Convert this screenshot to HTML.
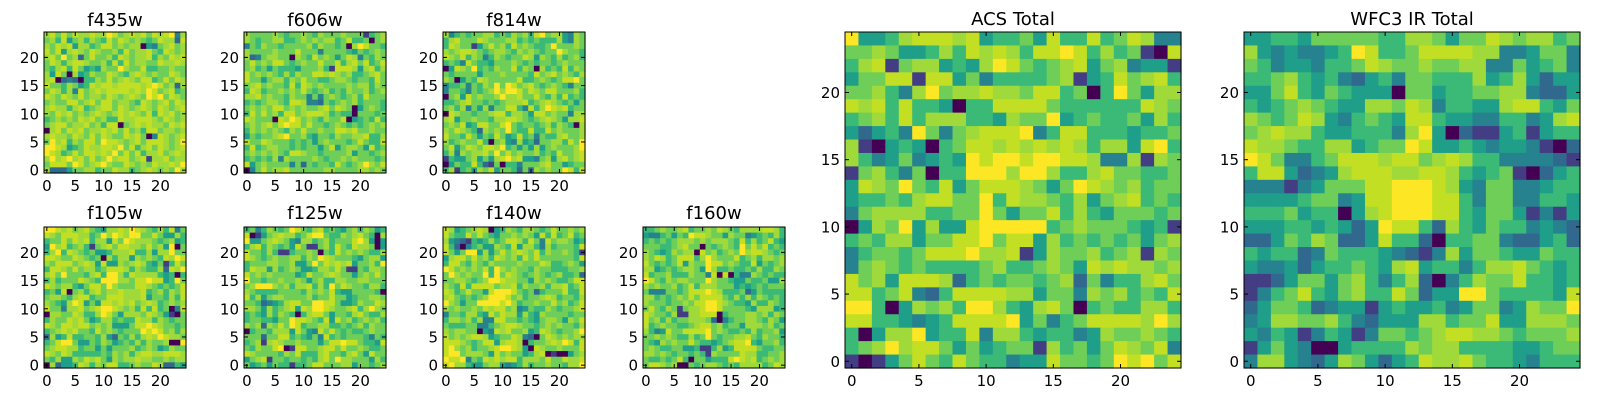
<!DOCTYPE html>
<html><head><meta charset="utf-8"><style>
html,body{margin:0;padding:0;background:#fff;}
svg{display:block;font-family:"DejaVu Sans","Liberation Sans",sans-serif;}
</style></head><body>
<svg id="fig" width="1600" height="400" viewBox="0 0 1600 400" xmlns="http://www.w3.org/2000/svg"></svg>
<script>
const xTickValues = [0, 5, 10, 15, 20];
const yTickValues = [0, 5, 10, 15, 20];
const panelTitles = ["f435w","f606w","f814w","f105w","f125w","f140w","f160w","ACS Total","WFC3 IR Total"];
// rows listed from y=24 (top) down to y=0; digits 0..9 = relative intensity
const f435w = ["78686 87787 79867 87868 78937","67584 67576 58687 67656 87728","76878 47756 88676 77043 67867","86847 87687 66758 67786 58767","78696 72686 67587 67785 76878","68757 88766 75858 67766 87787","65785 86454 76697 66855 66766","74860 74576 68765 78767 66876","78023 20557 68678 76885 68687","86657 64587 88788 88789 86727","68757 38678 78888 78798 67856","87687 68677 68767 87698 96876","67668 86786 88677 65876 78687","78775 78567 88687 67876 87678","76878 67678 76787 87685 87867","56767 68786 75587 78887 68767","67886 77867 58806 78787 76878","07868 78677 87868 67588 67767","78776 87686 87668 78603 87678","69785 76886 98876 78688 87679","99874 56877 88796 85786 87678","98756 86887 87968 68577 86787","79789 78686 79788 67817 78677","68886 98678 97668 76768 77879","72224 66775 66877 56787 67697"];
const f606w = ["76666 76566 76576 66766 61567","76566 77556 76767 75685 56067","36576 65666 67576 65607 98665","76666 76668 66636 66654 65676","72367 76607 65867 64687 36576","68676 88656 76686 68578 68568","67564 65554 66675 18887 47857","86767 65757 66887 87675 56786","86646 77576 86655 67765 66586","67867 66585 87676 66676 77576","58756 67676 86567 56576 67567","77867 66576 63636 76567 58666","56567 76588 73326 56767 56665","67676 88676 76678 68760 46765","58686 75886 78887 56550 66656","87666 08798 67657 66804 56585","67678 68988 68665 67656 56767","57676 76576 86676 68878 66766","46566 78966 75466 57667 78557","86687 66656 56467 66656 86558","58567 76656 56646 84677 64856","67676 76588 76656 66674 66567","56565 73766 66765 66767 66656","84676 66636 26566 58656 79768","03686 77866 66667 76666 77676"];
const f814w = ["73565 66775 65767 58967 74376","57866 68766 67756 56555 74376","58766 14686 75867 65569 66676","76788 76567 76576 76566 97665","87685 76357 65668 74765 75675","56538 65546 66765 65665 67666","04876 95657 66857 60756 58576","65666 64666 76666 58678 67657","76046 58766 66685 56765 68896","35563 65769 69867 86567 65366","36653 65679 79986 87688 66675","06748 67667 97786 68657 58565","55678 66565 67778 56787 65646","67573 64736 68853 85798 78566","08766 56678 85776 48867 66377","78466 76657 78876 56787 64778","67684 58866 89656 65675 76507","76876 52767 69655 85586 76667","86658 64658 64585 63655 78667","75676 68506 74374 52667 75869","68468 76887 95646 47467 66679","57376 77869 68676 67565 86678","15446 74647 89784 43674 78678","04655 85216 05536 66786 64566","57156 47684 66526 27676 69858"];
const f105w = ["99878 67865 47787 98765 75836","87688 87756 97987 99668 64475","56686 87857 74869 87776 56745","49785 67516 78688 77686 74906","57958 76564 45777 85574 77966","88766 87656 07577 47676 58798","76888 67874 84476 78754 61586","58876 86775 68887 57655 72879","78696 66578 59975 87777 54505","57566 68765 99977 68898 84596","87677 54688 69766 68876 56568","56480 67578 67787 77856 75768","67765 78856 68887 77846 65758","76547 98464 88787 86787 56767","86637 78678 99876 75858 56038","07766 87557 98647 77687 64106","57668 78645 77565 58775 76566","87688 78867 67444 68898 76656","56787 86658 67656 66989 86757","27458 55665 74265 75787 98776","56899 64465 76456 57576 67009","67887 75664 64666 75676 45766","87687 55555 65767 57887 78887","65744 76878 64767 78776 67677","07244 58757 68855 67668 72254"];
const f125w = ["56357 65698 65785 65467 57645","80146 78775 68996 55767 86507","94467 87643 77567 56668 97404","57857 65648 61167 58658 77604","86657 51156 67606 58676 76557","87656 76677 57698 76665 46774","56667 76674 46968 78784 66759","58774 75676 44577 68611 65776","86767 66664 58667 87664 67686","96656 67667 64675 57766 77666","67999 76757 78575 96876 65775","76555 56666 57676 85446 66650","85746 77666 67566 86645 66776","66523 45788 66998 86445 76687","77647 56784 87998 76678 57976","56547 57650 57886 46657 86557","56655 46698 87658 48675 67675","76727 68698 56677 55656 75766","05665 77748 64386 86565 56766","66626 68856 54638 56566 65365","56717 87667 66646 88988 65548","65766 89018 86678 86866 76556","87666 65768 55578 66578 64866","46781 66566 56578 69776 66475","64564 65515 56886 66774 66567"];
const f140w = ["87456 78704 57657 76568 66767","86558 68654 66767 64858 56856","74321 54575 68875 86386 77645","85203 56447 65847 75375 66658","86469 94746 86787 68576 67651","47886 86758 76758 68666 66658","58865 76576 66676 66875 56764","98676 76859 76766 57665 55667","69767 66959 68765 67656 75562","66776 56799 87766 47676 55688","76585 88886 77857 66757 78568","87568 66489 99865 62566 68558","78656 56799 98675 66787 56657","97646 69999 89756 67668 67568","76766 76878 86734 65576 56678","36657 75486 87747 54766 66566","57767 57338 86656 54677 64768","65556 63356 78876 65676 76657","76776 60438 78667 45876 56679","86767 88745 66873 20687 67677","88876 56884 78870 56678 79858","89767 56678 99874 08766 76668","89967 77648 67664 57801 00467","98893 65878 78857 77686 68778","89775 44677 43457 56676 65779"];
const f160w = ["55676 67856 67687 65777 78875","43356 46598 87664 76634 56575","56565 67776 76777 65857 56854","66655 67866 06567 65968 68565","76545 76770 86756 76978 87656","76875 68885 79766 68567 57767","86565 68476 69886 76558 46567","77456 56776 49755 65565 75576","85667 55576 63808 05337 65655","98657 67766 69766 54465 56447","76766 75685 77766 64545 65666","63336 65688 89875 55624 65555","77565 67686 88886 57575 76565","76665 66768 89987 65547 55765","68657 61677 89986 66654 77745","87665 71177 88805 66677 67576","86757 56677 76203 56677 65764","85676 65567 88675 66477 76756","75348 66888 89676 55657 56674","66767 65575 69656 67786 57665","65476 76686 55456 78895 46675","67655 66445 11574 58888 65566","77676 56656 51766 66877 55667","65565 68506 64555 89878 56767","68876 70065 67765 65777 75687"];
const acsTotal = ["94457 88878 45564 85585 68733","66764 45758 78758 89857 56108","57816 77454 79865 67846 73441","46688 18846 35555 67145 86785","66753 79677 87768 85605 96477","87858 55405 58888 65555 55876","56758 57775 54766 94565 56475","42453 96367 88893 58855 54556","71045 40568 87878 78757 74895","75346 34549 89989 98873 37176","16753 60559 99799 75578 66556","48769 65846 88876 46987 67566","45565 78866 95877 65746 78565","36777 75566 96466 85754 66656","04769 47448 99999 56766 65451","56577 46688 96884 75656 56467","35665 68889 77814 76675 67176","36765 65555 67556 76487 87767","86748 88725 65665 67263 55786","88568 32588 88774 66376 75658","99504 76759 97547 86056 55775","88554 34588 88946 35688 88797","50477 94558 37754 55347 66765","56797 88646 45661 75646 87683","10146 86586 55344 86656 98968"];
const wfc3Total = ["44554 66666 55776 46687 67756","74343 34598 55688 88773 34663","65344 35568 76676 67733 64563","55675 45324 53665 55745 74244","44685 46544 40664 55667 73224","54567 65447 76873 55447 88546","76568 74356 54885 44335 53478","67877 54455 53794 02114 51455","87765 57745 66984 45434 43102","98633 56888 78867 87553 33321","58842 34788 87788 75456 10245","33313 46668 89998 74366 33455","44445 66348 89998 85366 33554","55564 55047 89998 85466 41314","44455 45424 98852 75465 53432","22465 76224 85520 55663 22452","54552 36555 43213 74665 44655","43342 45565 47845 53577 86545","11246 64675 35720 35766 85545","13568 54675 58624 49965 55548","24665 23441 45445 34663 47669","34776 67532 44477 56684 47776","43541 35413 66567 88776 56667","14643 00455 55767 75555 44566","37743 24764 24587 78655 43555"];

const palette = ["#440154","#433d84","#31688e","#26828e","#1f9e89","#3aba76","#6ece58","#9fda3a","#c2df23","#fde725"];
const svg = document.getElementById('fig');
const NS = "http://www.w3.org/2000/svg";
const panels = [
  {id:"f435w", title:panelTitles[0], data:f435w, x:44, y:32, w:142, h:141, ty:26},
  {id:"f606w", title:panelTitles[1], data:f606w, x:244, y:32, w:142, h:141, ty:26},
  {id:"f814w", title:panelTitles[2], data:f814w, x:443, y:32, w:142, h:141, ty:26},
  {id:"f105w", title:panelTitles[3], data:f105w, x:44, y:227, w:142, h:141, ty:219},
  {id:"f125w", title:panelTitles[4], data:f125w, x:244, y:227, w:142, h:141, ty:219},
  {id:"f140w", title:panelTitles[5], data:f140w, x:443, y:227, w:142, h:141, ty:219},
  {id:"f160w", title:panelTitles[6], data:f160w, x:643, y:227, w:142, h:141, ty:219},
  {id:"acs-total", title:panelTitles[7], data:acsTotal, x:845, y:32, w:336, h:336, ty:25},
  {id:"wfc3-ir-total", title:panelTitles[8], data:wfc3Total, x:1244, y:32, w:336, h:336, ty:25}
];
function mk(tag, attrs){const e=document.createElementNS(NS,tag);for(const k in attrs)e.setAttribute(k,attrs[k]);return e;}
panels.forEach(p=>{
  const g = mk('g',{});
  
  
  svg.appendChild(g);
  const N = 25;
  const sx = v => p.x + (v + 0.5) / N * p.w;
  const sy = v => p.y + p.h - (v + 0.5) / N * p.h;
  const cw = p.w / N, ch = p.h / N;
  p.data.forEach((rowStr, r)=>{
    const row = rowStr.replace(/\s/g,'');
    const yv = N - 1 - r;
    for(let c=0;c<N;c++){
      const v = parseInt(row[c] || '6',10);
      const rect = mk('rect',{x:(sx(c)-cw/2).toFixed(2), y:(sy(yv)-ch/2).toFixed(2), width:(cw+0.6).toFixed(2), height:(ch+0.6).toFixed(2), fill:palette[v]});
      
      
      g.appendChild(rect);
    }
  });
  const frame = mk('rect',{x:p.x, y:p.y, width:p.w, height:p.h, fill:'none', stroke:'#000', 'stroke-width':1});
  
  
  g.appendChild(frame);
  const fs = 15;
  xTickValues.forEach(t=>{
    const x = sx(t);
    g.appendChild(mk('line',{x1:x,y1:p.y+p.h,x2:x,y2:p.y+p.h-4,stroke:'#000'}));
    g.appendChild(mk('line',{x1:x,y1:p.y,x2:x,y2:p.y+4,stroke:'#000'}));
    const tx = mk('text',{x:x, y:p.y+p.h+18, 'text-anchor':'middle','font-size':fs, fill:'#000'});
    tx.textContent = t;
    
    
    g.appendChild(tx);
  });
  yTickValues.forEach(t=>{
    const y = sy(t);
    g.appendChild(mk('line',{x1:p.x,y1:y,x2:p.x+4,y2:y,stroke:'#000'}));
    g.appendChild(mk('line',{x1:p.x+p.w,y1:y,x2:p.x+p.w-4,y2:y,stroke:'#000'}));
    const ty = mk('text',{x:p.x-5, y:y+5.5, 'text-anchor':'end','font-size':fs, fill:'#000'});
    ty.textContent = t;
    
    
    g.appendChild(ty);
  });
  const title = mk('text',{x:p.x+p.w/2, y:p.ty, 'text-anchor':'middle','font-size':18, fill:'#000'});
  title.textContent = p.title;
  
  
  g.appendChild(title);
});
</script>
</body></html>
